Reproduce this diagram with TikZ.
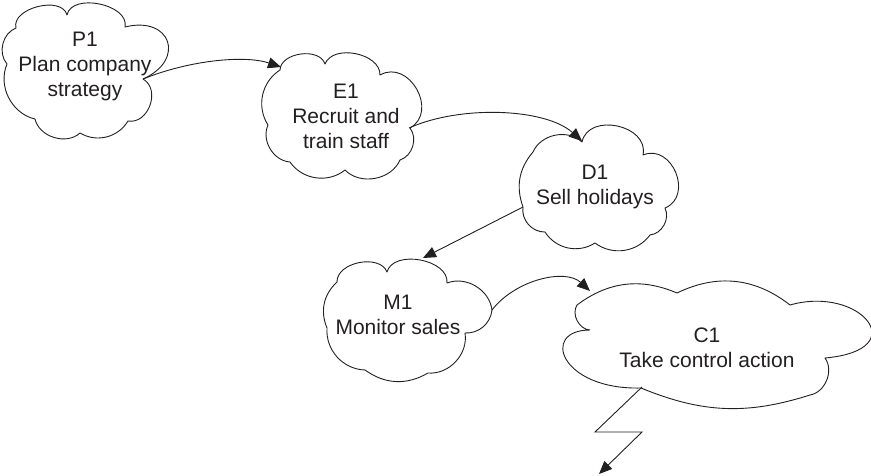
\documentclass[tikz,border=0pt]{standalone}
\usepackage{fontspec}
\setmainfont{Liberation Sans}
\usetikzlibrary{arrows.meta}
\definecolor{ink}{HTML}{231F20}
\begin{document}
\begin{tikzpicture}[x=1pt,y=-1pt,
  cl/.style={draw=ink,line width=0.9pt,line join=round},
  lbl/.style={align=center,font=\fontsize{21}{25}\selectfont,text=ink,inner sep=0pt},
  conn/.style={draw=ink,line width=0.9pt,-{Triangle[length=13pt,width=11pt]}}]
\useasboundingbox (0,0) rectangle (871,475);

% labels
\node[lbl] (P1) at (85,66) {P1\\Plan company\\strategy};
\node[lbl] (E1) at (346,116) {E1\\Recruit and\\train staff};
\node[lbl] (D1) at (595,187) {D1\\Sell holidays};
\node[lbl] (M1) at (398,315) {M1\\Monitor sales};
\node[lbl] (C1) at (707,348) {C1\\Take control action};

% clouds
\draw[cl] (7,64) to[bend left=55] (16,28) to[bend left=90] (67,15) to[bend left=90] (125,27)
  to[bend left=85,looseness=2.2] (143,79) to[bend left=80,looseness=1.2] (128,121)
  to[bend left=45] (80,133) to[bend left=60] (35,119) to[bend left=50] (7,64);
\draw[cl] (268,125) to[bend left=45] (280,70) to[bend left=80] (325,64) to[bend left=80] (380,75)
  to[bend left=90,looseness=1.4] (410,128) to[bend left=55] (400,160) to[bend left=56] (345,170)
  to[bend left=47] (290,162) to[bend left=55] (268,125);
\draw[cl] (523,207) to[bend left=30] (533,152) to[bend left=55] (582,142)
  to[bend left=90,looseness=1.26] (643,155) to[bend left=90,looseness=1.4] (665,208)
  to[bend left=55] (650,235) to[bend left=45] (595,243) to[bend left=45] (545,232)
  to[bend left=50] (523,207);
\draw[cl] (327,328) to[bend left=35] (337,282) to[bend left=80] (387,272) to[bend left=85] (447,283)
  to[bend left=52] (492,310) to[bend left=43] (465,333) to[bend left=52] (428,373)
  to[bend left=33] (365,370) to[bend left=46] (327,328);
\draw[cl] (577,305) to[bend left=30] (677,293) to[bend left=32] (790,305)
  .. controls (860,285) and (915,350) .. (825,358) to[bend left=58] (810,395) to[bend left=20] (641,388)
  .. controls (560,390) and (540,330) .. (590,330) to[bend left=60] (577,305);

% connector ends
\coordinate (P1out) at (143,79);
\coordinate (E1in) at (281,67);
\coordinate (E1out) at (409,128);
\coordinate (D1in) at (582,141);
\coordinate (D1out) at (523,207);
\coordinate (M1in) at (423,258);
\coordinate (M1out) at (492,310);
\coordinate (C1in) at (590,291);
\coordinate (C1out) at (642,387);
\coordinate (Z1) at (595,432);
\coordinate (Z2) at (642,432);
\coordinate (Zend) at (599,474);

\draw[conn] (P1out) .. controls (190,60) and (245,55) .. (E1in);
\draw[conn] (E1out) .. controls (460,105) and (545,108) .. (D1in);
\draw[conn] (D1out) -- (M1in);
\draw[conn] (M1out) .. controls (515,280) and (565,268) .. (C1in);
\draw[conn] (C1out) -- (Z1) -- (Z2) -- (Zend);
\end{tikzpicture}
\end{document}
